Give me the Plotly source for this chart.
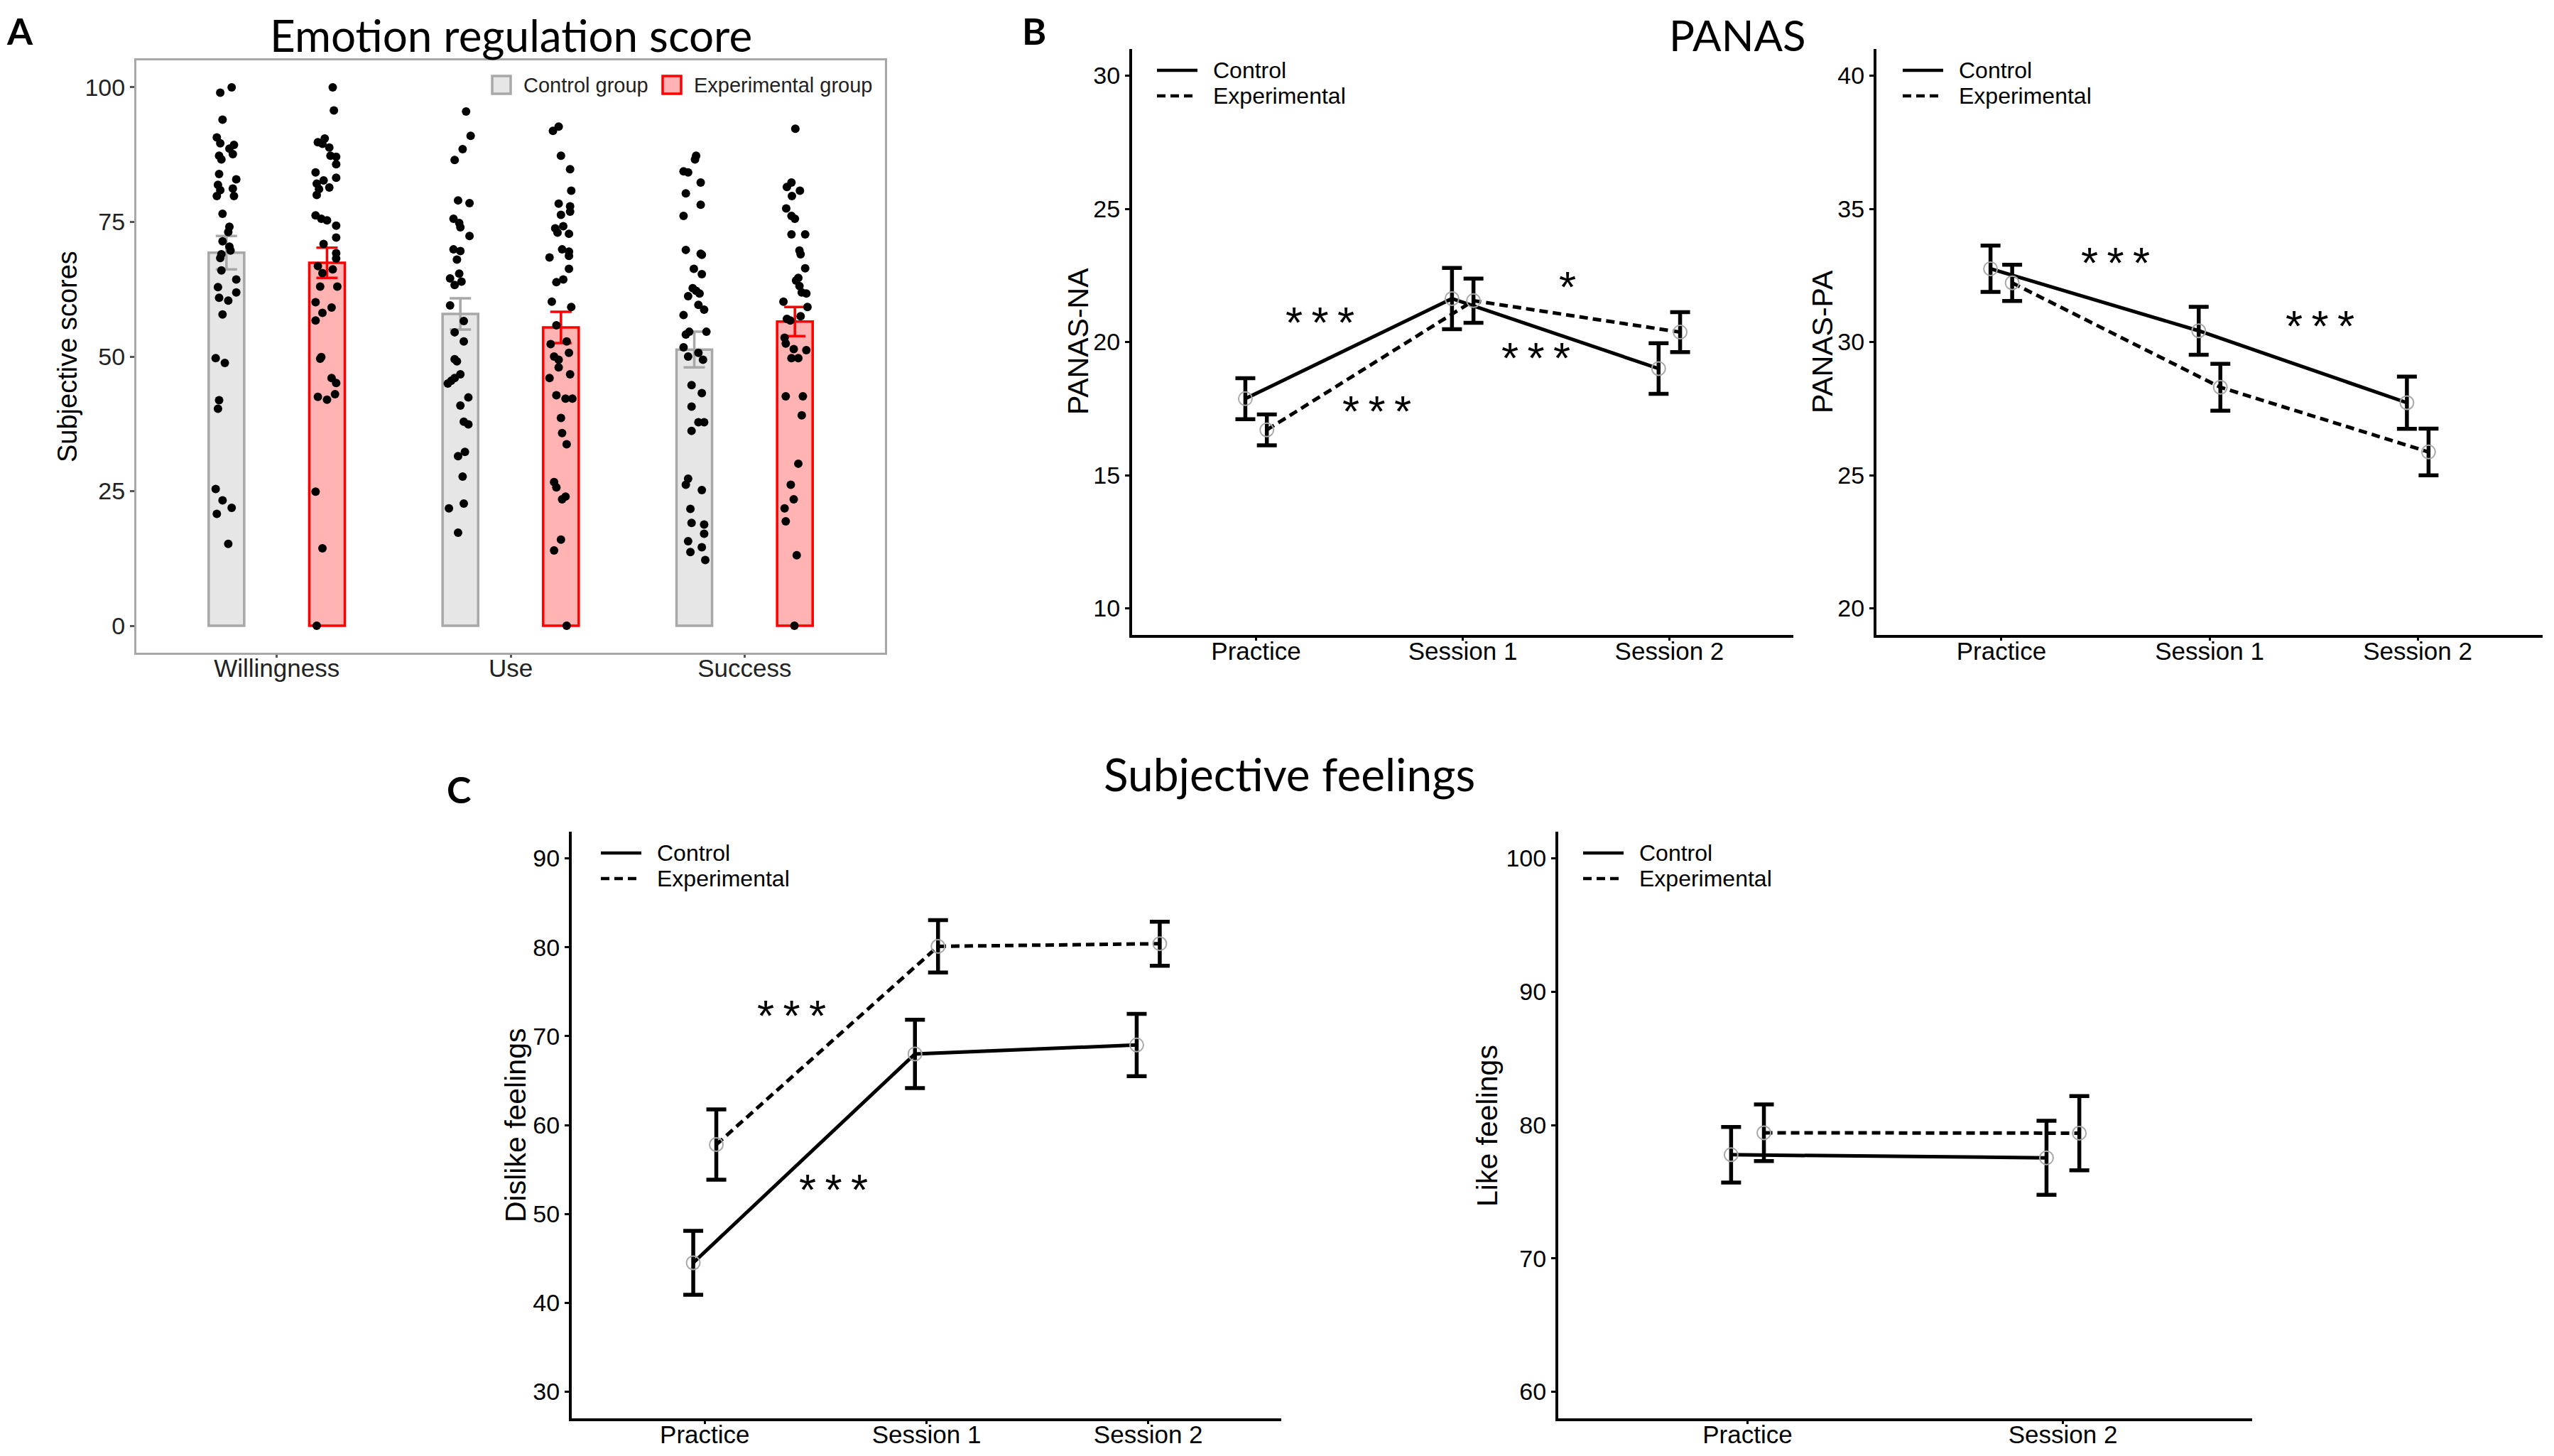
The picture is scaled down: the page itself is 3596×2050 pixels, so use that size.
import plotly.graph_objects as go

W, H = 3596, 2050

# ---------------- Panel A data ----------------
A_CATS = ["Willingness", "Use", "Success"]
A_CTRL_MEAN = [69.3, 57.9, 51.3]
A_CTRL_SE = [3.1, 2.9, 3.3]
A_EXP_MEAN = [67.4, 55.4, 56.5]
A_EXP_SE = [2.8, 2.9, 2.7]

CTRL_WILL = [100, 99.0, 94.0, 90.7, 89.6, 89.3, 88.6, 87.6, 87.3, 86.6, 83.9, 82.9, 81.9, 81.2, 80.9,
             79.8, 79.8, 76.5, 74.1, 73.1, 71.4, 70.4, 69.7, 69.0, 68.3, 66.0, 64.3, 62.9, 61.9, 60.9,
             60.4, 57.8, 49.7, 48.8, 41.9, 40.3, 25.4, 23.3, 21.9, 20.8, 15.2]
CTRL_WILL_JIT = [23, -27, -17, -42, -27, 33, 13, 28, -32, -22, -32, 43, -37, 28, -27, 33, -42, -17, 13, 8,
                 -17, 13, 18, -22, -27, -22, 43, -37, 43, -32, 8, -17, -47, -7, -32, -37, -47, -17, 23, -42, 8]
EXP_WILL = [100, 95.7, 90.5, 89.8, 89.5, 88.8, 87.3, 87.1, 85.7, 84.2, 83.2, 82.7, 82.1, 81.4, 81.1, 80.0,
            76.2, 75.6, 75.3, 74.3, 72.1, 70.9, 69.2, 68.2, 66.8, 66.2, 65.5, 63.0, 63.0, 60.1, 59.1, 58.1,
            56.7, 49.9, 49.6, 46.0, 45.1, 43.0, 42.5, 42.0, 24.9, 14.4, 0]
EXP_WILL_JIT = [25, 30, -10, -40, -20, 10, 15, 40, 40, -50, 40, -15, -45, 10, -35, -45, -50, -25, 0, 40,
                40, -15, 40, 40, -40, 25, -20, -30, 45, -50, 20, -20, -50, -25, -30, 20, 40, 35, -40, 0,
                -50, -20, -45]
CTRL_USE = [95.5, 91.0, 88.5, 86.5, 79.0, 78.5, 75.6, 74.8, 74.0, 72.4, 69.9, 69.6, 68.0, 65.4, 64.5, 63.9,
            63.3, 59.5, 56.6, 54.5, 52.8, 49.5, 49.1, 46.7, 46.0, 45.5, 45.0, 42.4, 40.9, 37.9, 37.4, 32.3,
            31.5, 27.7, 22.7, 21.8, 17.3]
CTRL_USE_JIT = [25, 45, 10, -25, -10, 40, -30, -5, 0, 40, -30, 0, -15, -5, -45, 5, -25, -45, 15, -25,
                15, -25, -15, 0, -25, -40, -55, 35, 0, 15, 35, 20, -10, 10, 15, -50, -10]
EXP_USE = [92.7, 91.9, 87.3, 84.8, 80.8, 78.4, 77.9, 76.9, 76.3, 74.2, 73.8, 73.0, 72.8, 69.9, 69.5, 68.7,
           68.4, 66.3, 64.3, 63.8, 60.2, 59.2, 55.8, 52.8, 52.3, 50.7, 50.0, 49.4, 48.0, 46.7, 46.0, 42.8,
           42.2, 42.2, 38.6, 35.8, 33.7, 26.7, 25.7, 24.0, 23.5, 16.0, 14.0, 0]
EXP_USE_JIT = [-10, -35, 0, 40, 45, -10, 40, 40, 0, 10, -25, -15, 35, 5, 35, 35, -50, 35, 10, -20,
               -40, 45, -20, 25, -45, 35, -30, -10, -10, 40, -50, -20, 20, 50, 0, 5, 25, -30, -20, 20,
               5, 0, -30, 25]
CTRL_SUC = [87.3, 86.6, 84.4, 84.2, 82.3, 80.3, 78.2, 76.1, 69.8, 69.1, 68.9, 66.3, 65.3, 62.7, 62.2, 61.7,
            61.2, 59.6, 58.7, 57.7, 54.6, 54.6, 54.1, 51.7, 50.7, 50.0, 49.4, 44.7, 43.2, 40.7, 37.8, 37.8,
            36.2, 27.3, 26.2, 25.2, 21.7, 19.1, 18.8, 17.1, 15.7, 14.6, 13.7, 12.2]
CTRL_SUC_JIT = [8, 3, -47, -27, 28, -37, 28, -47, -37, 28, 33, -2, 33, -7, 8, 23, -27, 18, 43, -47,
                -22, 53, -37, -47, 18, -27, 38, -12, 33, -12, 18, 43, -12, -27, -37, 33, -17, -12, 43, 43,
                -27, 33, -17, 48]
EXP_SUC = [92.3, 82.3, 81.5, 80.8, 79.8, 77.5, 76.1, 75.6, 72.7, 72.7, 69.7, 69.0, 66.4, 64.6, 64.1, 63.1,
           61.9, 61.7, 60.2, 59.2, 57.5, 57.0, 56.7, 53.5, 52.4, 51.4, 51.2, 49.7, 49.7, 42.6, 42.6, 39.1,
           30.1, 26.2, 23.5, 21.8, 19.4, 13.1, 0]
EXP_SUC_JIT = [2, -15, -35, 22, -13, -38, -15, 0, -15, 45, 20, 25, 45, 15, 5, 20, 30, 50, -50, 55,
               25, -35, -20, -45, -40, -5, 50, -15, 15, -40, 35, 30, 15, -18, -5, -45, -40, 8, -2]

# ---------------- Panel B data ----------------
B_CATS = ["Practice", "Session 1", "Session 2"]
NA_CTRL_MEAN = [17.87, 21.63, 19.0]
NA_CTRL_SE = [0.77, 1.15, 0.95]
NA_EXP_MEAN = [16.7, 21.55, 20.37]
NA_EXP_SE = [0.58, 0.83, 0.75]
PA_CTRL_MEAN = [32.75, 30.42, 27.72]
PA_CTRL_SE = [0.87, 0.9, 0.98]
PA_EXP_MEAN = [32.22, 28.3, 25.87]
PA_EXP_SE = [0.68, 0.88, 0.88]

# ---------------- Panel C data ----------------
C1_CATS = ["Practice", "Session 1", "Session 2"]
DIS_CTRL_MEAN = [44.5, 68.0, 69.0]
DIS_CTRL_SE = [3.6, 3.85, 3.5]
DIS_EXP_MEAN = [57.8, 80.1, 80.4]
DIS_EXP_SE = [3.96, 2.95, 2.48]
C2_CATS = ["Practice", "Session 2"]
LIKE_CTRL_MEAN = [77.77, 77.54]
LIKE_CTRL_SE = [2.08, 2.78]
LIKE_EXP_MEAN = [79.42, 79.39]
LIKE_EXP_SE = [2.13, 2.78]

# significance marks: (text, x in category units, y in data units)
NA_SIG = [("***", 0.31, 20.75), ("***", 0.584, 17.42), ("*", 1.506, 22.08), ("***", 1.355, 19.42)]
PA_SIG = [("***", 0.547, 33.0), ("***", 1.53, 30.62)]
DIS_SIG = [("***", 0.392, 72.35), ("***", 0.58, 52.76)]

# ---------------- style ----------------
ARIAL = "Liberation Sans"
TITLE_FONT = "Lato"
JITTER_UNIT = 1 / 1023.0
A_DODGE = 0.215
BAR_W = 0.152
L_DODGE = 0.052
DASH = "12px,7px"
CTRL_FILL, CTRL_LINE = "#e6e6e6", "#a8a8a8"
EXP_FILL, EXP_LINE = "#ffb3b3", "#ff0000"
DX, DY = -10, -9   # global pixel offset of the layout


def px_x(p):
    return (p + DX) / W


def px_y(p):
    return 1 - (p + DY) / H


def xd(p0, p1):
    return [px_x(p0), px_x(p1)]


def yd(top, bottom):
    return [px_y(bottom), px_y(top)]


fig = go.Figure()

# ---- Panel A bars ----
A_POINTS = [(CTRL_WILL, CTRL_WILL_JIT, EXP_WILL, EXP_WILL_JIT),
            (CTRL_USE, CTRL_USE_JIT, EXP_USE, EXP_USE_JIT),
            (CTRL_SUC, CTRL_SUC_JIT, EXP_SUC, EXP_SUC_JIT)]
fig.add_trace(go.Bar(x=[i - A_DODGE for i in range(3)], y=A_CTRL_MEAN, width=BAR_W,
                     marker=dict(color=CTRL_FILL, line=dict(color=CTRL_LINE, width=3.5)),
                     error_y=dict(type="data", array=A_CTRL_SE, color=CTRL_LINE, thickness=3.5, width=15),
                     name="Control group", showlegend=False, xaxis="x", yaxis="y"))
fig.add_trace(go.Bar(x=[i + A_DODGE for i in range(3)], y=A_EXP_MEAN, width=BAR_W,
                     marker=dict(color=EXP_FILL, line=dict(color=EXP_LINE, width=3.5)),
                     error_y=dict(type="data", array=A_EXP_SE, color=EXP_LINE, thickness=3.5, width=15),
                     name="Experimental group", showlegend=False, xaxis="x", yaxis="y"))
for i, (cv, cj, ev, ej) in enumerate(A_POINTS):
    for vals, jit, side in ((cv, cj, -1), (ev, ej, 1)):
        fig.add_trace(go.Scatter(x=[i + side * A_DODGE + j * JITTER_UNIT for j in jit], y=vals,
                                 mode="markers", marker=dict(color="black", size=12),
                                 showlegend=False, hoverinfo="y", xaxis="x", yaxis="y"))


def line_panel(ax, cats, cm, cs, em, es):
    xa, ya = "x" + ax, "y" + ax
    n = len(cats)
    for means, ses, side, dash in ((cm, cs, -1, "solid"), (em, es, 1, DASH)):
        xs = [i + side * L_DODGE for i in range(n)]
        fig.add_trace(go.Scatter(x=xs, y=means, mode="lines",
                                 line=dict(color="black", width=5, dash=dash),
                                 error_y=dict(type="data", array=ses, color="black", thickness=5.5, width=14),
                                 showlegend=False, xaxis=xa, yaxis=ya))
        fig.add_trace(go.Scatter(x=xs, y=means, mode="markers",
                                 marker=dict(symbol="circle-open", size=19, color="#a8a8a8",
                                             line=dict(width=2, color="#a8a8a8")),
                                 showlegend=False, xaxis=xa, yaxis=ya))


line_panel("2", B_CATS, NA_CTRL_MEAN, NA_CTRL_SE, NA_EXP_MEAN, NA_EXP_SE)
line_panel("3", B_CATS, PA_CTRL_MEAN, PA_CTRL_SE, PA_EXP_MEAN, PA_EXP_SE)
line_panel("4", C1_CATS, DIS_CTRL_MEAN, DIS_CTRL_SE, DIS_EXP_MEAN, DIS_EXP_SE)
line_panel("5", C2_CATS, LIKE_CTRL_MEAN, LIKE_CTRL_SE, LIKE_EXP_MEAN, LIKE_EXP_SE)


def xaxis(dom, cats, anchor, boxed=False):
    n = len(cats)
    return dict(domain=dom, range=[-0.6, n - 0.4], tickvals=list(range(n)), ticktext=cats,
                showline=True, mirror=boxed, linecolor=CTRL_LINE if boxed else "black",
                linewidth=3 if boxed else 4, ticks="outside", ticklen=4, tickwidth=3,
                tickcolor="#555555" if boxed else "black", ticklabelstandoff=-15,
                tickfont=dict(family=ARIAL, size=35, color="#222222" if boxed else "black"),
                showgrid=False, zeroline=False, anchor=anchor, fixedrange=True)


def yaxis(dom, rng, tv, anchor, boxed=False):
    return dict(domain=dom, range=rng, tickvals=tv,
                showline=True, mirror=boxed, linecolor=CTRL_LINE if boxed else "black",
                linewidth=3 if boxed else 4, ticks="outside", ticklen=6, tickwidth=3,
                tickcolor="#555555" if boxed else "black",
                tickfont=dict(family=ARIAL, size=34, color="#222222" if boxed else "black"),
                showgrid=False, zeroline=False, anchor=anchor, fixedrange=True)


ROW1_B = yd(70, 895)
ROW2 = yd(1172, 1998)
layout = dict(
    width=W, height=H, margin=dict(l=0, r=0, t=0, b=0),
    paper_bgcolor="white", plot_bgcolor="white", barmode="overlay", showlegend=False,
    xaxis=xaxis(xd(194, 1248), A_CATS, "y", boxed=True),
    yaxis=yaxis(yd(86, 920), [-5, 105], [0, 25, 50, 75, 100], "x", boxed=True),
    xaxis2=xaxis(xd(1596, 2527), B_CATS, "y2"),
    yaxis2=yaxis(ROW1_B, [9, 31], [10, 15, 20, 25, 30], "x2"),
    xaxis3=xaxis(xd(2644, 3582), B_CATS, "y3"),
    yaxis3=yaxis(ROW1_B, [19, 41], [20, 25, 30, 35, 40], "x3"),
    xaxis4=xaxis(xd(807, 1806), C1_CATS, "y4"),
    yaxis4=yaxis(ROW2, [27, 93], [30, 40, 50, 60, 70, 80, 90], "x4"),
    xaxis5=xaxis(xd(2196, 3173), C2_CATS, "y5"),
    yaxis5=yaxis(ROW2, [58, 102], [60, 70, 80, 90, 100], "x5"),
)
fig.update_layout(**layout)

ann = []
shapes = []


def ptxt(text, px, py, size, family=ARIAL, angle=0, anchor="center", bold=False, color="black"):
    ann.append(dict(text=("<b>%s</b>" % text) if bold else text, x=px_x(px), y=px_y(py),
                    xref="paper", yref="paper", showarrow=False, textangle=angle,
                    xanchor=anchor, yanchor="middle", font=dict(family=family, size=size, color=color)))


# panel letters and titles
ptxt("A", 30, 44, 52, TITLE_FONT, bold=True)
ptxt("B", 1458, 44, 52, TITLE_FONT, bold=True)
ptxt("C", 648, 1112, 52, TITLE_FONT, bold=True)
ptxt("Emotion regulation score", 721, 50, 62, TITLE_FONT)
ptxt("PANAS", 2448, 50, 60, TITLE_FONT)
ptxt("Subjective feelings", 1817, 1090, 64, TITLE_FONT)

# axis titles
ptxt("Subjective scores", 97, 503, 38, angle=-90)
ptxt("PANAS-NA", 1520, 482, 41, angle=-90)
ptxt("PANAS-PA", 2568, 482, 41, angle=-90)
ptxt("Dislike feelings", 728, 1586, 41, angle=-90)
ptxt("Like feelings", 2096, 1586, 41, angle=-90)

# panel A legend
for x0, fill, line, label in ((695, CTRL_FILL, CTRL_LINE, "Control group"),
                              (935, EXP_FILL, EXP_LINE, "Experimental group")):
    shapes.append(dict(type="rect", xref="paper", yref="paper", x0=px_x(x0), x1=px_x(x0 + 26),
                       y0=px_y(133), y1=px_y(108), fillcolor=fill, line=dict(color=line, width=3.5)))
    ptxt(label, x0 + 42, 121, 29, anchor="left", color="#222222")

# line-panel legends
for lx, ly in ((1631, 100), (2681, 100), (848, 1202), (2231, 1202)):
    for k, (label, dash) in enumerate((("Control", "solid"), ("Experimental", DASH))):
        yy = ly + 36 * k
        shapes.append(dict(type="line", xref="paper", yref="paper", x0=px_x(lx), x1=px_x(lx + 57),
                           y0=px_y(yy), y1=px_y(yy), line=dict(color="black", width=4.5, dash=dash)))
        ptxt(label, lx + 77, yy, 32, anchor="left")

# significance asterisks
for ax, sigs in (("2", NA_SIG), ("3", PA_SIG), ("4", DIS_SIG)):
    for text, sx, sy in sigs:
        ann.append(dict(text="\u2009".join(text), x=sx, y=sy, xref="x" + ax, yref="y" + ax,
                        showarrow=False, yshift=0, font=dict(family=ARIAL, size=62, color="black")))

fig.update_layout(annotations=ann, shapes=shapes)
fig.write_html("out.html")
